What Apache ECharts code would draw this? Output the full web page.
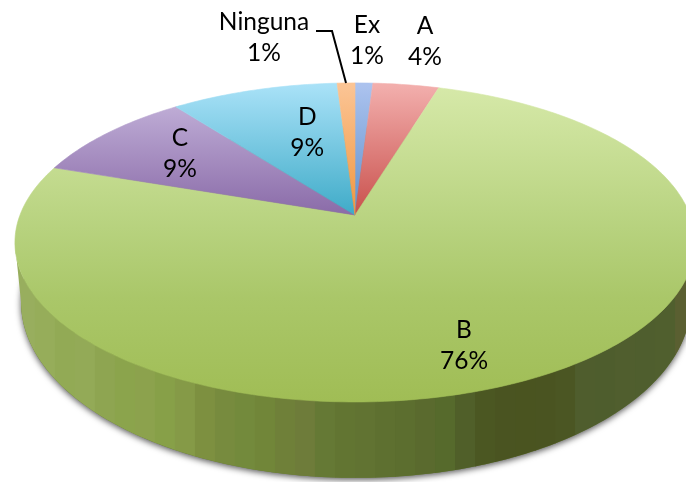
<!DOCTYPE html>
<html><head><meta charset="utf-8">
<style>html,body{margin:0;padding:0;background:#fff}#c{width:686px;height:482px}</style>
<script src="https://cdn.jsdelivr.net/npm/echarts@6/dist/echarts.min.js"></script>
</head><body><div id="c"></div>
<script>
// ---- data, clockwise from 12 o'clock ----
var categories = ['Ex', 'A', 'B', 'C', 'D', 'Ninguna'];
var values = [1.0, 3.7, 75.51, 9.39, 9.4, 1.0];

// ---- styling, kept apart from the data ----
var sliceStops = {
  Ex: [[0, '#abc2ee'], [1, '#5f90cb']],
  A: [[0, '#f2aeac'], [1, '#c9504c']],
  B: [[0, '#d6e9a9'], [0.45, '#b7d27e'], [0.67, '#aac769'], [1, '#a0bd55']],
  C: [[0, '#c8b8de'], [1, '#8a6ba8']],
  D: [[0, '#a8e1f7'], [1, '#3fabc8']],
  Ninguna: [[0, '#fbc494'], [1, '#f0963f']]
};
var wallShades = ['#98ae5e','#96ad5a','#92aa55','#93aa57','#8ea551','#8ba44c','#8ca24d','#87a048','#859a47','#7d9040',
  '#778b3e','#738a3c','#718639','#6f8039','#6e7c3a','#657935','#627532','#617332','#5e7030','#5c6e2f',
  '#5a6a2e','#566a2c','#505f29','#4b5722','#4a5421','#4a5420','#4a5421','#4b5623','#4f5d2d','#4e5d2d',
  '#505e2e','#4f5e2e','#505f2e','#5a5f31'];
var labelPlace = {
  Ex: {r: 1, dx: 3, dy: -42},
  A: {r: 1, dx: 19, dy: -43},
  B: {r: 0.6, dx: 8, dy: 40},
  C: {r: 0.6, dx: -21, dy: -10},
  D: {r: 0.6, dx: 16.5, dy: -2.7},
  Ninguna: {r: 1, dx: -82, dy: -45}
};
var FONT = '24.5px Lato, "Open Sans", sans-serif';

// ---- perspective disc projection ----
var P = 0.172;
var topDisc = {cx: 355, cy: 215, a: 335, b: 154.8};
var lowDisc = {cx: 356, cy: 271.7, a: 330, b: 170.7};
function proj(d, deg, r) {
  var t = deg * Math.PI / 180, u = r * Math.sin(t), v = r * Math.cos(t), w = 1 + P * v;
  return [d.cx + d.a * u / w, d.cy - d.b * v / w];
}
var total = values.reduce(function (s, v) { return s + v; }, 0);
var starts = [], acc = 0;
values.forEach(function (v) { starts.push(acc); acc += v; });
function deg(x) { return x / total * 360; }

var wallFrom = Math.acos(-P) * 180 / Math.PI, wallTo = 360 - wallFrom;
var wallLeft = proj(topDisc, wallTo, 1)[0], wallRight = proj(topDisc, wallFrom, 1)[0];
// rim angle on disc d whose screen x equals x (clamped to the rim), so band edges stay vertical
function angleAtX(d, x) {
  var lo = wallFrom, hi = wallTo;
  for (var k = 0; k < 40; k++) {
    var m = (lo + hi) / 2;
    if (proj(d, m, 1)[0] > x) lo = m; else hi = m;
  }
  return (lo + hi) / 2;
}
function arc(d, a0, a1) {
  var pts = [], n = Math.max(2, Math.ceil(Math.abs(a1 - a0) / 1));
  for (var i = 0; i <= n; i++) pts.push(proj(d, a0 + (a1 - a0) * i / n, 1));
  return pts;
}
function gradient(name) {
  var c = sliceStops[name];
  var stops = c.map(function (s) { return {offset: s[0], color: s[1]}; });
  return new echarts.graphic.LinearGradient(0, 86, 0, c.length > 2 ? 402 : 215, stops, true);
}

var chart = echarts.init(document.getElementById('c'), null, {renderer: 'canvas'});
chart.setOption({
  animation: false,
  backgroundColor: '#fff',
  series: [
    { // shadowed base of the wall
      type: 'custom', coordinateSystem: 'none', silent: true, data: [[0]],
      renderItem: function () {
        return {type: 'polygon',
          shape: {points: arc(lowDisc, 0, 360)},
          style: {fill: '#6a7d38', shadowBlur: 6, shadowColor: 'rgba(0,0,0,0.65)', shadowOffsetY: 2}};
      }
    },
    { // side wall bands, left to right
      type: 'custom', coordinateSystem: 'none', silent: true,
      data: wallShades.map(function (c, i) { return [i]; }),
      renderItem: function (params, api) {
        var i = api.value(0), n = wallShades.length, w = (wallRight - wallLeft) / n;
        var x0 = wallLeft + i * w, x1 = x0 + w + (i < n - 1 ? 0.6 : 0);
        var pts = arc(topDisc, angleAtX(topDisc, x0), angleAtX(topDisc, x1))
          .concat(arc(lowDisc, angleAtX(lowDisc, x1), angleAtX(lowDisc, x0)));
        return {type: 'polygon', shape: {points: pts}, style: {fill: wallShades[i]}};
      }
    },
    { // top face slices
      type: 'custom', coordinateSystem: 'none', silent: true,
      data: values.map(function (v, i) { return [starts[i], v]; }),
      renderItem: function (params, api) {
        var a0 = deg(api.value(0)), a1 = a0 + deg(api.value(1));
        var name = categories[params.dataIndex], fill = gradient(name);
        var pts = [[topDisc.cx, topDisc.cy]].concat(arc(topDisc, a0, a1));
        return {type: 'polygon', shape: {points: pts}, style: {fill: fill, stroke: fill, lineWidth: 0.6}};
      }
    },
    { // labels and the leader line
      type: 'custom', coordinateSystem: 'none', silent: true,
      data: values.map(function (v, i) { return [starts[i], v]; }),
      renderItem: function (params, api) {
        var s = api.value(0), v = api.value(1), name = categories[params.dataIndex];
        var pl = labelPlace[name], rimMid = proj(topDisc, deg(s + v / 2), pl.r);
        var kids = [{type: 'text', style: {
          text: name + '\n' + Math.round(v / total * 100) + '%',
          x: rimMid[0] + pl.dx, y: rimMid[1] + pl.dy,
          align: 'center', verticalAlign: 'middle',
          font: FONT, lineHeight: 31, fill: '#000'}}];
        if (name === 'Ninguna') {
          kids.push({type: 'polyline',
            shape: {points: [[rimMid[0] - 30, rimMid[1] - 52], [rimMid[0] - 14, rimMid[1] - 52], rimMid]},
            style: {fill: 'none', stroke: '#000', lineWidth: 2}});
        }
        return {type: 'group', children: kids};
      }
    }
  ]
});
</script></body></html>
